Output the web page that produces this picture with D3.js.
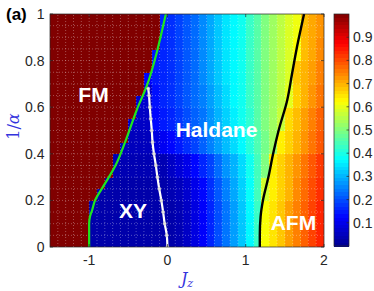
<!DOCTYPE html>
<html>
<head>
<meta charset="utf-8">
<script src="https://cdn.jsdelivr.net/npm/d3@7"></script>
<style>
  html, body { margin: 0; padding: 0; background: #fff; }
  svg { display: block; }
</style>
</head>
<body>
<div id="chart"></div>
<script>
// cell centres along Jz
const jzCells = [-1.45, -1.35, -1.25, -1.15, -1.05, -0.95, -0.85, -0.75, -0.65, -0.55,
                 -0.45, -0.35, -0.25, -0.15, -0.05, 0.05, 0.15, 0.25, 0.35, 0.45,
                 0.55, 0.65, 0.75, 0.85, 0.95, 1.05, 1.15, 1.25, 1.35, 1.45,
                 1.55, 1.65, 1.75, 1.85, 1.95];
// lower edges of the 1/alpha mesh rows
const alphaRows = [0, 0.05, 0.1, 0.15, 0.2, 0.25, 0.3, 0.35, 0.4, 0.45,
                   0.5, 0.55, 0.6, 0.65, 0.7, 0.75, 0.8, 0.85, 0.9, 0.95];
// number of cells (from the left) in the FM phase, per mesh row
const fmCells = [5, 5, 5, 5, 6, 7, 8, 8, 9, 10, 10, 11, 11, 12, 12, 13, 13, 14, 14, 14];
const fmValue = 1;

// colour values outside FM, one row per 0.1 of 1/alpha (bottom to top)
const cellValues = [
  [0.03,0.03,0.03,0.03,0.03,0.03,0.03,0.03,0.03,0.03,0.03,0.03,0.03,0.03,0.03, 0.03,0.04,0.06,0.09,0.12,0.16,0.2,0.24,0.28,0.32,0.37,0.43, 0.62,0.65,0.68,0.72,0.75,0.78,0.81,0.84],
  [0.03,0.03,0.03,0.03,0.03,0.03,0.03,0.03,0.03,0.03,0.03,0.03,0.03,0.03,0.03, 0.03,0.04,0.06,0.09,0.12,0.16,0.2,0.24,0.28,0.32,0.37,0.43, 0.62,0.65,0.68,0.72,0.75,0.78,0.81,0.84],
  [0.03,0.03,0.03,0.03,0.03,0.03,0.03,0.03,0.03,0.03,0.03,0.03,0.03,0.03,0.03, 0.04,0.05,0.07,0.1,0.13,0.17,0.21,0.25,0.29,0.33,0.38,0.44, 0.58,0.64,0.67,0.7,0.74,0.77,0.8,0.83],
  [0.04,0.04,0.04,0.04,0.04,0.04,0.04,0.04,0.04,0.04,0.04,0.04,0.04,0.04,0.04, 0.06,0.08,0.1,0.13,0.16,0.19,0.23,0.27,0.3,0.34,0.39,0.44,0.5, 0.64,0.67,0.7,0.73,0.76,0.79,0.82],
  [0.05,0.05,0.05,0.05,0.05,0.05,0.05,0.05,0.05,0.05,0.05,0.05,0.05, 0.09,0.11,0.13,0.15,0.17,0.19,0.22,0.25,0.28,0.31,0.34,0.37,0.41,0.45,0.49,0.53, 0.64,0.67,0.7,0.73,0.76,0.79],
  [0.06,0.06,0.06,0.06,0.06,0.06,0.06,0.06,0.06,0.06,0.06,0.06,0.06, 0.13,0.15,0.16,0.18,0.2,0.22,0.24,0.27,0.3,0.33,0.36,0.39,0.42,0.46,0.5,0.53,0.57, 0.66,0.69,0.72,0.75,0.78],
  [0.07,0.07,0.07,0.07,0.07,0.07,0.07,0.07,0.07,0.07,0.07,0.07,0.07, 0.14,0.16,0.17,0.19,0.21,0.23,0.25,0.28,0.31,0.34,0.37,0.39,0.43,0.46,0.5,0.53,0.56,0.6, 0.67,0.7,0.73,0.76],
  [0.12,0.12,0.12,0.12,0.12,0.12,0.12,0.12,0.12,0.12,0.12,0.12,0.12, 0.15,0.16,0.17,0.19,0.21,0.23,0.26,0.29,0.32,0.35,0.37,0.39,0.43,0.46,0.5,0.53,0.56,0.59, 0.68,0.7,0.72,0.75],
  [0.14,0.14,0.14,0.14,0.14,0.14,0.14,0.14,0.14,0.14,0.14,0.14,0.14,0.14, 0.16,0.17,0.19,0.21,0.23,0.26,0.29,0.32,0.35,0.37,0.39,0.43,0.46,0.5,0.53,0.56,0.59,0.62, 0.69,0.71,0.74],
  [0.16,0.16,0.16,0.16,0.16,0.16,0.16,0.16,0.16,0.16,0.16,0.16,0.16,0.16, 0.16,0.17,0.19,0.21,0.23,0.26,0.29,0.32,0.35,0.37,0.39,0.43,0.46,0.5,0.53,0.56,0.59,0.61, 0.69,0.71,0.73]
];

// phase boundaries [Jz, 1/alpha]
const fmLine = [[-1.0,0],[-1.0,0.1],[-0.99,0.13],[-0.96,0.16],[-0.925,0.2],[-0.82,0.26],[-0.67,0.345],
                [-0.53,0.46],[-0.39,0.59],[-0.265,0.69],[-0.14,0.83],[-0.075,0.92],[-0.02,1.0]];
const xyLine = [[0.0,0],[-0.008,0.05],[-0.035,0.1],[-0.055,0.15],[-0.078,0.2],[-0.105,0.25],[-0.128,0.3],
                [-0.148,0.35],[-0.172,0.4],[-0.19,0.45],[-0.2,0.5],[-0.213,0.55],[-0.225,0.6],[-0.235,0.65],[-0.245,0.68]];
const afmLine = [[1.18,0],[1.18,0.05],[1.19,0.13],[1.22,0.2],[1.29,0.3],[1.35,0.4],[1.42,0.5],
                 [1.53,0.63],[1.59,0.74],[1.65,0.85],[1.70,0.93],[1.745,1.0]];

const phaseNames = ['FM', 'XY', 'Haldane', 'AFM'];
const xTicks = [-1, 0, 1, 2];
const yTicks = [0, 0.2, 0.4, 0.6, 0.8, 1];
const yTickLabels = ['0', '0.2', '0.4', '0.6', '0.8', '1'];
const cbTicks = [0.1, 0.2, 0.3, 0.4, 0.5, 0.6, 0.7, 0.8, 0.9];

const W = 374, H = 291;
const x = d3.scaleLinear().domain([-1.5, 2]).range([50, 324]);
const y = d3.scaleLinear().domain([0, 1]).range([247, 14]);
const cb = d3.scaleLinear().domain([0, 1]).range([246, 14]);

// jet colour map
const jet = d3.scaleLinear()
    .domain([0, 1/8, 3/8, 5/8, 7/8, 1])
    .range(['#00008f', '#0000ff', '#00ffff', '#ffff00', '#ff0000', '#800000'])
    .clamp(true);

const tickFont = '"Liberation Sans", Arial, Helvetica, sans-serif';
const axisColor = '#262626';

const svg = d3.select('#chart').append('svg')
    .attr('width', W)
    .attr('height', H);

const defs = svg.append('defs');
defs.append('clipPath').attr('id', 'plotclip')
    .append('rect')
    .attr('x', x(-1.5)).attr('y', y(1))
    .attr('width', x(2) - x(-1.5)).attr('height', y(0) - y(1));

const plot = svg.append('g').attr('clip-path', 'url(#plotclip)');

// map cells
const cells = [];
alphaRows.forEach(function(a0, k) {
    const row = cellValues[Math.floor(k / 2)];
    jzCells.forEach(function(jz, i) {
        cells.push({ jz: jz, a0: a0, v: i < fmCells[k] ? fmValue : row[i] });
    });
});

plot.selectAll('rect.cell')
    .data(cells)
    .enter().append('rect')
    .attr('class', 'cell')
    .attr('x', d => x(d.jz - 0.05))
    .attr('y', d => y(d.a0 + 0.05))
    .attr('width', x(0.1) - x(0) + 0.6)
    .attr('height', y(0) - y(0.05) + 0.6)
    .attr('fill', d => jet(d.v))
    .attr('shape-rendering', 'crispEdges');

// dotted mesh lines
plot.selectAll('line.gx')
    .data(jzCells.slice(1))
    .enter().append('line')
    .attr('x1', d => x(d - 0.05)).attr('x2', d => x(d - 0.05))
    .attr('y1', y(0)).attr('y2', y(1))
    .attr('stroke', '#fff')
    .attr('stroke-opacity', 0.4)
    .attr('stroke-width', 0.8)
    .attr('stroke-dasharray', '1,2');

plot.selectAll('line.gy')
    .data(alphaRows.slice(1))
    .enter().append('line')
    .attr('y1', d => y(d)).attr('y2', d => y(d))
    .attr('x1', x(-1.5)).attr('x2', x(2))
    .attr('stroke', '#fff')
    .attr('stroke-opacity', 0.4)
    .attr('stroke-width', 0.8)
    .attr('stroke-dasharray', '1,2');

// boundaries
const line = d3.line().x(d => x(d[0])).y(d => y(d[1])).curve(d3.curveMonotoneY);

plot.append('path').datum(fmLine)
    .attr('d', line)
    .attr('fill', 'none')
    .attr('stroke', '#1ee61e')
    .attr('stroke-width', 2.2);

plot.append('path').datum(xyLine)
    .attr('d', line)
    .attr('fill', 'none')
    .attr('stroke', '#ffffff')
    .attr('stroke-width', 2.2);

plot.selectAll('circle.xy')
    .data(xyLine)
    .enter().append('circle')
    .attr('cx', d => x(d[0]))
    .attr('cy', d => y(d[1]))
    .attr('r', 1.6)
    .attr('fill', '#e6e6e6')
    .attr('stroke', '#bbbbbb')
    .attr('stroke-width', 0.5);

plot.append('path').datum(afmLine)
    .attr('d', line)
    .attr('fill', 'none')
    .attr('stroke', '#000')
    .attr('stroke-width', 2.4);

// phase labels
const labelAt = [[-0.944, 0.622], [-0.44, 0.124], [0.627, 0.472], [1.61, 0.073]];
svg.selectAll('text.phase')
    .data(phaseNames)
    .enter().append('text')
    .attr('x', (d, i) => x(labelAt[i][0]))
    .attr('y', (d, i) => y(labelAt[i][1]))
    .attr('text-anchor', 'middle')
    .attr('font-family', tickFont)
    .attr('font-weight', 'bold')
    .attr('font-size', '21px')
    .attr('fill', '#fff')
    .text(d => d);

// axes box and ticks (inward)
svg.append('rect')
    .attr('x', x(-1.5)).attr('y', y(1))
    .attr('width', x(2) - x(-1.5)).attr('height', y(0) - y(1))
    .attr('fill', 'none')
    .attr('stroke', axisColor)
    .attr('stroke-width', 0.7);

const tl = 3;
xTicks.forEach(function(t) {
    svg.append('line').attr('x1', x(t)).attr('x2', x(t)).attr('y1', y(0)).attr('y2', y(0) - tl)
        .attr('stroke', axisColor).attr('stroke-width', 0.7);
    svg.append('line').attr('x1', x(t)).attr('x2', x(t)).attr('y1', y(1)).attr('y2', y(1) + tl)
        .attr('stroke', axisColor).attr('stroke-width', 0.7);
});
yTicks.forEach(function(t) {
    svg.append('line').attr('x1', x(-1.5)).attr('x2', x(-1.5) + tl).attr('y1', y(t)).attr('y2', y(t))
        .attr('stroke', axisColor).attr('stroke-width', 0.7);
    svg.append('line').attr('x1', x(2)).attr('x2', x(2) - tl).attr('y1', y(t)).attr('y2', y(t))
        .attr('stroke', axisColor).attr('stroke-width', 0.7);
});

svg.selectAll('text.xt')
    .data(xTicks)
    .enter().append('text')
    .attr('x', d => x(d))
    .attr('y', 265)
    .attr('text-anchor', 'middle')
    .attr('font-family', tickFont)
    .attr('font-size', '14px')
    .attr('fill', axisColor)
    .text(d => String(d));

svg.selectAll('text.yt')
    .data(yTicks)
    .enter().append('text')
    .attr('x', 44.5)
    .attr('y', d => y(d))
    .attr('dy', '0.36em')
    .attr('text-anchor', 'end')
    .attr('font-family', tickFont)
    .attr('font-size', '14px')
    .attr('fill', axisColor)
    .text((d, i) => yTickLabels[i]);

// axis labels
const xl = svg.append('text')
    .attr('x', 187).attr('y', 284)
    .attr('text-anchor', 'middle')
    .attr('font-family', '"DejaVu Serif", "Liberation Serif", serif')
    .attr('font-style', 'italic')
    .attr('font-size', '16px')
    .attr('fill', '#3333dd');
xl.append('tspan').text('J');
xl.append('tspan').attr('font-size', '11px').attr('dy', 3).text('z');

const yl = svg.append('text')
    .attr('transform', 'translate(19,' + (y(0.5) - 4) + ') rotate(-90)')
    .attr('text-anchor', 'middle')
    .attr('font-family', '"DejaVu Serif", "Liberation Serif", serif')
    .attr('font-size', '16px')
    .attr('fill', '#3333dd');
yl.append('tspan').text('1/');
yl.append('tspan').attr('font-style', 'italic').text('α');

svg.append('text')
    .attr('x', 6).attr('y', 20)
    .attr('font-family', tickFont)
    .attr('font-weight', 'bold')
    .attr('font-size', '17px')
    .attr('fill', '#000')
    .text('(a)');

// colour bar
const cbX = 334, cbW = 15;
const steps = d3.range(64);
svg.selectAll('rect.cb')
    .data(steps)
    .enter().append('rect')
    .attr('x', cbX)
    .attr('y', d => cb((d + 1) / 64))
    .attr('width', cbW)
    .attr('height', cb(0) - cb(1 / 64) + 0.5)
    .attr('fill', d => jet((d + 0.5) / 64))
    .attr('shape-rendering', 'crispEdges');

svg.append('rect')
    .attr('x', cbX).attr('y', cb(1))
    .attr('width', cbW).attr('height', cb(0) - cb(1))
    .attr('fill', 'none')
    .attr('stroke', axisColor)
    .attr('stroke-width', 0.7);

cbTicks.forEach(function(t) {
    svg.append('line').attr('x1', cbX + cbW).attr('x2', cbX + cbW - 2.5).attr('y1', cb(t)).attr('y2', cb(t))
        .attr('stroke', axisColor).attr('stroke-width', 0.7);
});

svg.selectAll('text.cbt')
    .data(cbTicks)
    .enter().append('text')
    .attr('x', 353)
    .attr('y', d => cb(d))
    .attr('dy', '0.36em')
    .attr('font-family', tickFont)
    .attr('font-size', '14px')
    .attr('fill', axisColor)
    .text(d => String(d));
</script>
</body>
</html>
